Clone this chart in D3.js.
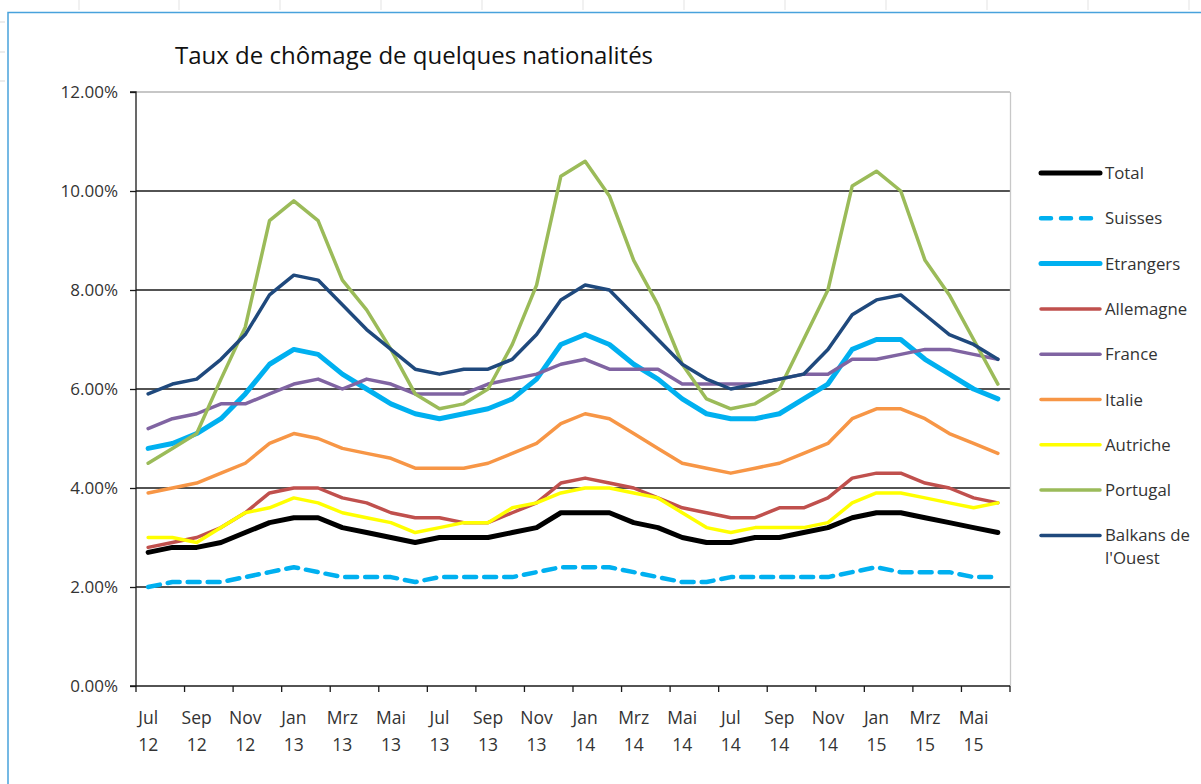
<!DOCTYPE html>
<html><head><meta charset="utf-8">
<script src="https://cdn.jsdelivr.net/npm/d3@7"></script>
<style>
html,body{margin:0;padding:0;background:#fff;}
svg{display:block;font-family:"Open Sans","Noto Sans",sans-serif;}
</style></head>
<body><svg id="c" width="1201" height="784"></svg>
<script>
const months = ["Jul 12","Aug 12","Sep 12","Okt 12","Nov 12","Dez 12","Jan 13","Feb 13","Mrz 13","Apr 13","Mai 13","Jun 13",
"Jul 13","Aug 13","Sep 13","Okt 13","Nov 13","Dez 13","Jan 14","Feb 14","Mrz 14","Apr 14","Mai 14","Jun 14",
"Jul 14","Aug 14","Sep 14","Okt 14","Nov 14","Dez 14","Jan 15","Feb 15","Mrz 15","Apr 15","Mai 15","Jun 15"];
const yTicks = [0,2,4,6,8,10,12];
const seriesNames = ["Total","Suisses","Etrangers","Allemagne","France","Italie","Autriche","Portugal","Balkans de l'Ouest"];
const total     = [2.7,2.8,2.8,2.9,3.1,3.3,3.4,3.4,3.2,3.1,3.0,2.9, 3.0,3.0,3.0,3.1,3.2,3.5,3.5,3.5,3.3,3.2,3.0,2.9, 2.9,3.0,3.0,3.1,3.2,3.4,3.5,3.5,3.4,3.3,3.2,3.1];
const suisses   = [2.0,2.1,2.1,2.1,2.2,2.3,2.4,2.3,2.2,2.2,2.2,2.1, 2.2,2.2,2.2,2.2,2.3,2.4,2.4,2.4,2.3,2.2,2.1,2.1, 2.2,2.2,2.2,2.2,2.2,2.3,2.4,2.3,2.3,2.3,2.2,2.2];
const etrangers = [4.8,4.9,5.1,5.4,5.9,6.5,6.8,6.7,6.3,6.0,5.7,5.5, 5.4,5.5,5.6,5.8,6.2,6.9,7.1,6.9,6.5,6.2,5.8,5.5, 5.4,5.4,5.5,5.8,6.1,6.8,7.0,7.0,6.6,6.3,6.0,5.8];
const allemagne = [2.8,2.9,3.0,3.2,3.5,3.9,4.0,4.0,3.8,3.7,3.5,3.4, 3.4,3.3,3.3,3.5,3.7,4.1,4.2,4.1,4.0,3.8,3.6,3.5, 3.4,3.4,3.6,3.6,3.8,4.2,4.3,4.3,4.1,4.0,3.8,3.7];
const france    = [5.2,5.4,5.5,5.7,5.7,5.9,6.1,6.2,6.0,6.2,6.1,5.9, 5.9,5.9,6.1,6.2,6.3,6.5,6.6,6.4,6.4,6.4,6.1,6.1, 6.1,6.1,6.2,6.3,6.3,6.6,6.6,6.7,6.8,6.8,6.7,6.6];
const italie    = [3.9,4.0,4.1,4.3,4.5,4.9,5.1,5.0,4.8,4.7,4.6,4.4, 4.4,4.4,4.5,4.7,4.9,5.3,5.5,5.4,5.1,4.8,4.5,4.4, 4.3,4.4,4.5,4.7,4.9,5.4,5.6,5.6,5.4,5.1,4.9,4.7];
const autriche  = [3.0,3.0,2.9,3.2,3.5,3.6,3.8,3.7,3.5,3.4,3.3,3.1, 3.2,3.3,3.3,3.6,3.7,3.9,4.0,4.0,3.9,3.8,3.5,3.2, 3.1,3.2,3.2,3.2,3.3,3.7,3.9,3.9,3.8,3.7,3.6,3.7];
const portugal  = [4.5,4.8,5.1,6.2,7.25,9.4,9.8,9.4,8.2,7.6,6.8,5.9, 5.6,5.7,6.0,6.9,8.1,10.3,10.6,9.9,8.6,7.7,6.5,5.8, 5.6,5.7,6.0,7.0,8.0,10.1,10.4,10.0,8.6,7.9,7.0,6.1];
const balkans   = [5.9,6.1,6.2,6.6,7.1,7.9,8.3,8.2,7.7,7.2,6.8,6.4, 6.3,6.4,6.4,6.6,7.1,7.8,8.1,8.0,7.5,7.0,6.5,6.2, 6.0,6.1,6.2,6.3,6.8,7.5,7.8,7.9,7.5,7.1,6.9,6.6];

const seriesData = [total,suisses,etrangers,allemagne,france,italie,autriche,portugal,balkans];
const styles = [
  {c:"#000000", w:5, dash:null},
  {c:"#00b0f0", w:4.5, dash:"12,8"},
  {c:"#00b0f0", w:5, dash:null},
  {c:"#c0504d", w:3.5, dash:null},
  {c:"#8064a2", w:3.5, dash:null},
  {c:"#f79646", w:3.5, dash:null},
  {c:"#ffff00", w:3.5, dash:null},
  {c:"#9bbb59", w:3.5, dash:null},
  {c:"#1f497d", w:3.5, dash:null}
];

const svg = d3.select("#c");
svg.append("rect").attr("x",0).attr("y",0).attr("width",1201).attr("height",784).attr("fill","#fff");
[22,52,81].forEach(y=>svg.append("line").attr("x1",0).attr("x2",5).attr("y1",y).attr("y2",y).attr("stroke","#d9d9d9"));
[79,179,280,381,482,583,684,785,886,987,1088,1189].forEach(x=>svg.append("line").attr("x1",x).attr("x2",x).attr("y1",0).attr("y2",10).attr("stroke","#e3e3e3"));
svg.append("path").attr("d","M8,784 V12.5 H1201").attr("fill","none").attr("stroke","#48a2dc").attr("stroke-width",1.5);

const L=136, R=1010, T=92, B=686;
const x = d3.scaleBand().domain(months).range([L,R]).padding(0);
const y = d3.scaleLinear().domain([0,12]).range([B,T]);

svg.append("g").selectAll("line").data(yTicks.filter(d=>d>0)).join("line")
  .attr("x1",L).attr("x2",R).attr("y1",d=>y(d)).attr("y2",d=>y(d))
  .attr("stroke",d=>d===12?"#b5b5b5":"#1a1a1a").attr("stroke-width",1.3);
svg.append("line").attr("x1",R+0.5).attr("x2",R+0.5).attr("y1",T).attr("y2",B).attr("stroke","#c8c8c8").attr("stroke-width",1.3);

const yAxis = d3.axisLeft(y).tickValues(yTicks).tickSize(6).tickPadding(12).tickFormat(d=>d3.format(".2f")(d)+"%");
const gy = svg.append("g").attr("transform",`translate(${L},0)`).call(yAxis);
gy.select(".domain").attr("stroke","#1a1a1a").attr("stroke-width",1.3).attr("d",`M-6,${T}H0V${B}`);
gy.selectAll(".tick line").attr("stroke","#1a1a1a").attr("stroke-width",1.3);
gy.selectAll("text").attr("font-size",17).attr("fill","#333").attr("font-family","'Open Sans',sans-serif");

const gx = svg.append("g").attr("transform",`translate(0,${B})`);
gx.append("line").attr("x1",L-6).attr("x2",R).attr("y1",0).attr("y2",0).attr("stroke","#1a1a1a").attr("stroke-width",1.3);
const tickPos = months.filter((m,i)=>i%2===0).map(m=>x(m)).concat([R]);
gx.selectAll("line.tk").data(tickPos).join("line").attr("class","tk")
  .attr("x1",d=>d).attr("x2",d=>d).attr("y1",0).attr("y2",6).attr("stroke","#1a1a1a").attr("stroke-width",1.3);
const labs = months.filter((m,i)=>i%2===0);
const lt = gx.selectAll("text.lb").data(labs).join("text").attr("class","lb")
  .attr("x",d=>x(d)+x.bandwidth()/2).attr("text-anchor","middle").attr("font-size",17.5).attr("fill","#333");
lt.append("tspan").attr("x",d=>x(d)+x.bandwidth()/2).attr("y",38).text(d=>d.split(" ")[0]);
lt.append("tspan").attr("x",d=>x(d)+x.bandwidth()/2).attr("y",65).text(d=>d.split(" ")[1]);

const line = d3.line().x((d,i)=>x(months[i])+x.bandwidth()/2).y(d=>y(d));
seriesData.forEach((s,k)=>{
  svg.append("path").datum(s).attr("d",line).attr("fill","none")
    .attr("stroke",styles[k].c).attr("stroke-width",styles[k].w)
    .attr("stroke-linejoin","round").attr("stroke-linecap","round")
    .attr("stroke-dasharray",styles[k].dash);
});

svg.append("text").attr("x",175).attr("y",64).attr("font-size",24).attr("fill","#111")
  .text("Taux de chômage de quelques nationalités");

const lg = svg.append("g");
seriesNames.forEach((n,k)=>{
  const yy = 173 + k*45.3;
  lg.append("line").attr("x1",1041).attr("x2",1100).attr("y1",yy).attr("y2",yy)
    .attr("stroke",styles[k].c).attr("stroke-width",styles[k].w).attr("stroke-linecap","round")
    .attr("stroke-dasharray",styles[k].dash?"10,10":null);
  const t = lg.append("text").attr("font-size",16.8).attr("fill","#333");
  if(n==="Balkans de l'Ouest"){
    t.append("tspan").attr("x",1105).attr("y",yy+6).text("Balkans de");
    t.append("tspan").attr("x",1105).attr("y",yy+29).text("l'Ouest");
  } else {
    t.attr("x",1105).attr("y",yy+6).text(n);
  }
});
</script></body></html>
